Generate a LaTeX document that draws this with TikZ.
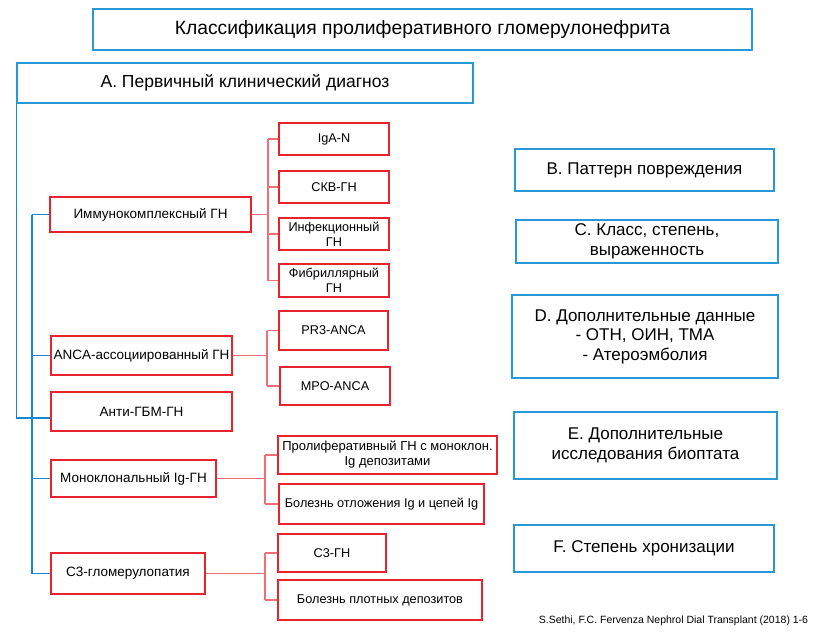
\documentclass[tikz,border=0pt]{standalone}
\usepackage{fontspec}
\setmainfont{Liberation Sans}
\definecolor{boxblue}{RGB}{40,152,215}
\definecolor{boxred}{RGB}{232,35,45}
\definecolor{linered}{RGB}{238,112,118}
\definecolor{lineblue}{RGB}{25,135,205}
\begin{document}
\begin{tikzpicture}[x=1pt,y=-1pt,%
  % common options for the blue boxes:
  bluebox/.style = {draw=boxblue, line width=1.4pt, align=center, inner sep=0,
              font=\fontsize{17}{19.5}\selectfont},
  % common options for the red boxes:
  redbox/.style = {draw=boxred, line width=1.4pt, align=center, inner sep=0,
              font=\fontsize{13.5}{16}\selectfont},
  subbox/.style = {redbox, font=\fontsize{12.7}{15}\selectfont},
  % common options for the lines:
  blueline/.style = {draw=lineblue, line width=1.5pt},
  redline/.style = {draw=linered, line width=1.5pt}]
\useasboundingbox (0,0) rectangle (822,640);
\node[bluebox,minimum width=659,minimum height=41,font=\fontsize{19.3}{22}\selectfont] (title) at (422.5,29.5) {Классификация пролиферативного гломерулонефрита};
\node[bluebox,minimum width=456,minimum height=40,font=\fontsize{17.5}{20}\selectfont] (diagA) at (245,83) {А. Первичный клинический диагноз};
\node[bluebox,minimum width=259,minimum height=42] (diagB) at (644.5,170) {В. Паттерн повреждения};
\node[bluebox,minimum width=262,minimum height=43] (diagC) at (647,241.5) {С. Класс, степень,\\выраженность};
\node[bluebox,minimum width=266,minimum height=83] (diagD) at (645,336.5) {D. Дополнительные данные\\- ОТН, ОИН, ТМА\\- Атероэмболия};
\node[bluebox,minimum width=263,minimum height=67] (diagE) at (645.5,445.5) {Е. Дополнительные\\исследования биоптата};
\node[bluebox,minimum width=260,minimum height=47] (diagF) at (644,548.5) {F. Степень хронизации};
\node[redbox,minimum width=201,minimum height=35] (imm) at (150.5,214.5) {Иммунокомплексный ГН};
\node[redbox,minimum width=181,minimum height=39] (anca) at (141.5,355.5) {ANCA-ассоциированный ГН};
\node[redbox,minimum width=181,minimum height=39] (gbm) at (141.5,411.5) {Анти-ГБМ-ГН};
\node[redbox,minimum width=165,minimum height=37] (mono) at (133.5,478.5) {Моноклональный Ig-ГН};
\node[redbox,minimum width=154,minimum height=41] (cthree) at (128,573.5) {С3-гломерулопатия};
\node[subbox,minimum width=110,minimum height=32] (iga) at (334,139) {IgA-N};
\node[subbox,minimum width=110,minimum height=32] (skv) at (334,187) {СКВ-ГН};
\node[subbox,minimum width=110,minimum height=32] (inf) at (334,234) {Инфекционный\\ГН};
\node[subbox,minimum width=110,minimum height=33] (fib) at (334,280.5) {Фибриллярный\\ГН};
\node[subbox,minimum width=109,minimum height=39] (pr3) at (333.5,330.5) {PR3-ANCA};
\node[subbox,minimum width=110,minimum height=38] (mpo) at (335,386) {MPO-ANCA};
\node[subbox,minimum width=219,minimum height=38,font=\fontsize{13}{15}\selectfont] (prolif) at (387.5,455) {Пролиферативный ГН с моноклон.\\Ig депозитами};
\node[subbox,minimum width=205,minimum height=40] (ldd) at (381.5,504) {Болезнь отложения Ig и цепей Ig};
\node[subbox,minimum width=108,minimum height=38] (cthreegn) at (332,553) {С3-ГН};
\node[subbox,minimum width=204,minimum height=40] (ddd) at (380,600) {Болезнь плотных депозитов};
\node[font=\fontsize{10.5}{12}\selectfont] (cite) at (673.5,621) {S.Sethi, F.C. Fervenza Nephrol Dial Transplant (2018) 1-6};
% blue tree
\coordinate (trunk) at (32,0);
\draw[blueline] (diagA.south west) |- ([yshift=-6.5]gbm.west);
\draw[blueline] (imm.west -| trunk) -- (cthree.west -| trunk);
\draw[blueline] (imm.west -| trunk) -- (imm.west);
\draw[blueline] (anca.west -| trunk) -- (anca.west);
\draw[blueline] (mono.west -| trunk) -- (mono.west);
\draw[blueline] (cthree.west -| trunk) -- (cthree.west);
% red forks
\coordinate (immfork) at (268,0);
\coordinate (ancafork) at (267,0);
\coordinate (monofork) at (265,0);
\coordinate (cthreefork) at (265,0);
\draw[redline] (imm.east) -- (imm.east -| immfork);
\draw[redline] (iga.west -| immfork) -- (fib.west -| immfork);
\draw[redline] (iga.west -| immfork) -- (iga.west);
\draw[redline] (skv.west -| immfork) -- (skv.west);
\draw[redline] (inf.west -| immfork) -- (inf.west);
\draw[redline] (fib.west -| immfork) -- (fib.west);
\draw[redline] (anca.east) -- (anca.east -| ancafork);
\draw[redline] (pr3.west -| ancafork) -- (mpo.west -| ancafork);
\draw[redline] (pr3.west -| ancafork) -- (pr3.west);
\draw[redline] (mpo.west -| ancafork) -- (mpo.west);
\draw[redline] (mono.east) -- (mono.east -| monofork);
\draw[redline] (prolif.west -| monofork) -- (ldd.west -| monofork);
\draw[redline] (prolif.west -| monofork) -- (prolif.west);
\draw[redline] (ldd.west -| monofork) -- (ldd.west);
\draw[redline] (cthree.east) -- (cthree.east -| cthreefork);
\draw[redline] (cthreegn.west -| cthreefork) -- (ddd.west -| cthreefork);
\draw[redline] (cthreegn.west -| cthreefork) -- (cthreegn.west);
\draw[redline] (ddd.west -| cthreefork) -- (ddd.west);
\end{tikzpicture}
\end{document}
